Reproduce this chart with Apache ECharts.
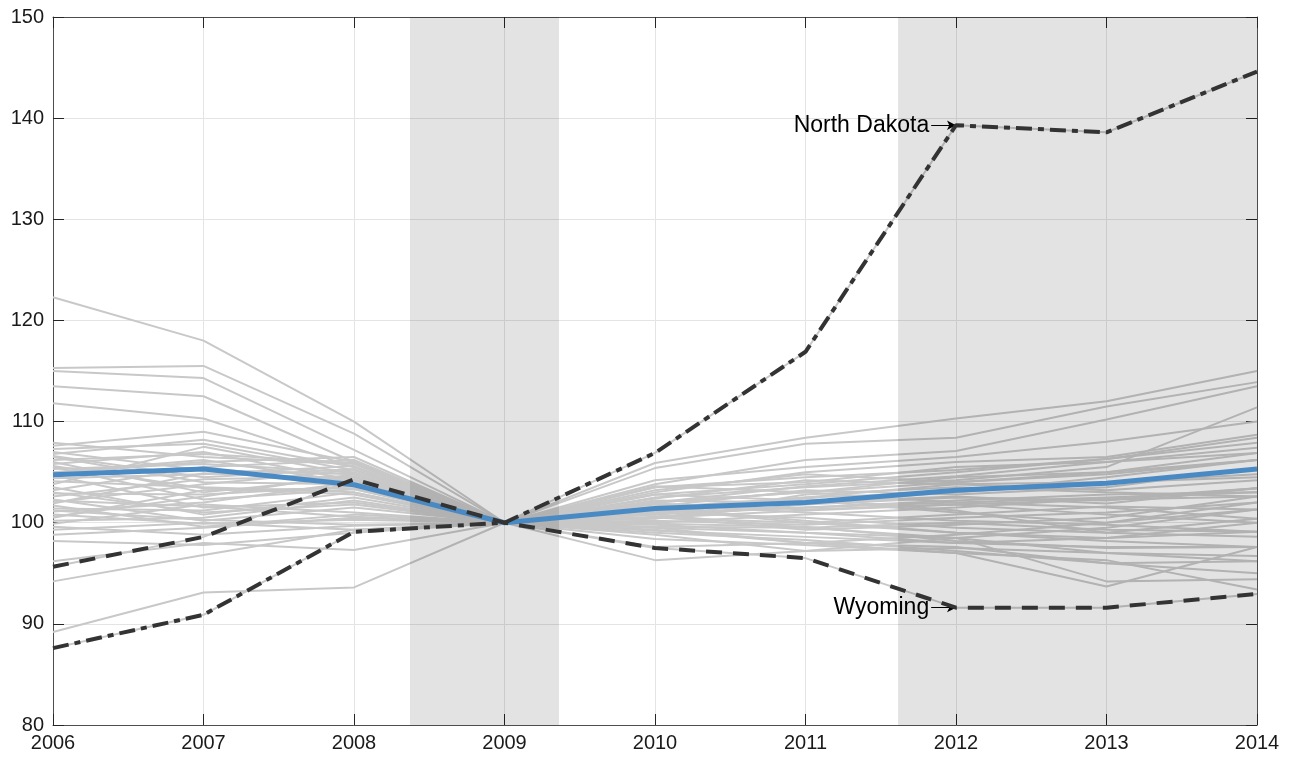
<!DOCTYPE html>
<html>
<head>
<meta charset="utf-8">
<title>State index 2006-2014</title>
<script src="https://cdn.jsdelivr.net/npm/echarts@6/dist/echarts.min.js"></script>
<style>
	html, body { margin: 0; padding: 0; background: #fff; }
	#stateCharts { width: 1294px; height: 759px; }
</style>
</head>
<body>
<div id="stateCharts"></div>
<script>
/********************************************************/
/* data */
/********************************************************/
const years = [2006, 2007, 2008, 2009, 2010, 2011, 2012, 2013, 2014];
const yTicks = { min: 80, max: 150, step: 10 };

// mean of all states (blue)
const meanIndex = [104.75, 105.3, 103.75, 100, 101.4, 102.0, 103.2, 103.9, 105.3];
// highlighted states
const northDakota = [87.6, 90.9, 99.1, 100, 106.9, 116.9, 139.3, 138.6, 144.6];
const wyoming = [95.65, 98.6, 104.3, 100, 97.5, 96.5, 91.6, 91.6, 92.95];

// shaded periods [start, end]
const shadedSpans = [[2008.372, 2009.362], [2011.615, 2014]];

// every other state (grey)
const otherStates = [
	[122.3, 118.0, 110.0, 100, 103.5, 104.5, 105.2, 106.3, 107.9],
	[115.3, 115.5, 108.8, 100, 102.0, 103.0, 104.0, 105.0, 106.2],
	[115.0, 114.3, 107.2, 100, 101.5, 102.5, 103.0, 104.0, 104.5],
	[113.5, 112.5, 106.0, 100, 100.5, 100.0, 99.0, 98.5, 99.1],
	[111.8, 110.3, 105.5, 100, 99.5, 99.0, 98.0, 97.6, 97.6],
	[89.2, 93.1, 93.6, 100, 101.0, 101.5, 102.0, 102.5, 103.0],
	[94.2, 96.8, 99.3, 100, 100.5, 101.2, 101.8, 102.3, 102.6],
	[96.2, 98.0, 97.3, 100, 96.3, 97.2, 97.5, 97.0, 96.2],
	[98.2, 97.8, 99.0, 100, 99.3, 98.0, 97.0, 93.7, 97.6],
	[98.8, 99.5, 100.5, 100, 100.8, 99.5, 98.5, 94.2, 94.4],
	[107.9, 106.5, 105.8, 100, 103.5, 104.0, 105.5, 106.0, 107.4],
	[107.6, 109.0, 106.0, 100, 105.9, 108.4, 110.3, 112.0, 115.0],
	[107.3, 107.8, 105.2, 100, 102.0, 103.0, 104.5, 105.0, 106.9],
	[107.0, 105.2, 104.8, 100, 101.0, 100.5, 99.5, 99.0, 100.4],
	[106.8, 108.2, 105.5, 100, 105.4, 107.8, 108.4, 111.5, 113.9],
	[106.5, 104.0, 103.8, 100, 100.5, 101.8, 102.5, 102.2, 103.4],
	[106.2, 106.8, 105.9, 100, 103.0, 105.0, 106.0, 106.5, 108.7],
	[106.0, 103.0, 104.5, 100, 99.8, 99.0, 98.5, 97.0, 96.7],
	[105.8, 107.0, 104.2, 100, 102.8, 103.8, 105.0, 106.3, 108.4],
	[105.5, 102.3, 103.3, 100, 101.2, 102.5, 103.8, 104.0, 104.8],
	[105.3, 105.8, 105.0, 100, 101.8, 101.0, 100.2, 99.8, 99.1],
	[105.0, 106.2, 104.0, 100, 103.8, 106.2, 107.1, 110.2, 113.5],
	[104.7, 101.5, 102.0, 100, 100.2, 99.8, 100.5, 101.0, 102.0],
	[104.4, 104.8, 105.6, 100, 102.5, 103.5, 104.2, 105.5, 111.4],
	[104.1, 103.5, 103.0, 100, 99.5, 98.0, 97.6, 96.0, 95.0],
	[103.8, 107.5, 104.8, 100, 102.2, 102.0, 103.0, 104.5, 106.2],
	[103.5, 100.8, 102.5, 100, 100.8, 101.5, 102.2, 102.8, 103.0],
	[103.2, 105.5, 106.2, 100, 104.2, 105.5, 106.5, 108.0, 110.0],
	[102.9, 102.8, 103.6, 100, 101.5, 100.2, 99.0, 98.2, 97.6],
	[102.6, 104.3, 104.6, 100, 103.2, 104.8, 104.0, 104.8, 106.2],
	[102.3, 100.2, 101.5, 100, 99.2, 98.6, 98.0, 98.5, 100.0],
	[102.0, 103.8, 105.2, 100, 101.6, 103.2, 102.8, 103.5, 105.4],
	[101.7, 99.6, 100.8, 100, 100.0, 100.8, 101.5, 102.4, 103.4],
	[101.4, 101.2, 103.0, 100, 102.8, 102.2, 101.0, 100.0, 101.3],
	[101.1, 102.0, 104.0, 100, 100.6, 99.3, 99.8, 100.5, 102.6],
	[100.8, 99.9, 100.3, 100, 98.8, 97.2, 98.5, 99.5, 101.3],
	[100.5, 103.2, 103.4, 100, 102.0, 103.6, 104.6, 106.0, 106.9],
	[100.2, 100.5, 102.2, 100, 99.0, 98.3, 97.2, 96.0, 96.2],
	[99.9, 101.8, 101.0, 100, 100.4, 102.8, 103.5, 103.0, 102.6],
	[99.6, 98.8, 99.7, 100, 98.4, 97.8, 97.0, 96.3, 93.4],
	[99.3, 100.0, 99.3, 100, 97.6, 98.0, 98.8, 100.0, 102.0],
	[101.9, 104.9, 104.3, 100, 101.4, 100.0, 100.8, 101.6, 101.3],
	[103.0, 101.0, 101.8, 100, 99.6, 99.5, 100.0, 99.3, 99.1],
	[104.9, 106.0, 106.5, 100, 103.6, 103.0, 102.0, 101.5, 100.4],
	[106.6, 104.5, 105.3, 100, 102.4, 104.2, 103.8, 103.2, 104.2],
	[102.2, 101.6, 100.6, 100, 101.9, 101.3, 101.8, 100.8, 100.0],
	[100.6, 102.6, 104.8, 100, 100.9, 102.4, 101.2, 99.0, 98.6],
	[105.6, 103.4, 102.8, 100, 99.9, 99.6, 98.2, 97.5, 97.6],
	[101.2, 100.3, 99.8, 100, 101.1, 102.0, 102.6, 101.9, 103.4]
];

/********************************************************/
/* chart */
/********************************************************/
const FONT = 'Liberation Sans, Arial, Helvetica, sans-serif';
const GREY = '#c8c8c8';
const DARK = '#333333';

// pair years with values for a value x axis
function toPoints(values) {
	return values.map((v, i) => [years[i], v]);
}

function greyLine(values) {
	return {
		type: 'line',
		data: toPoints(values),
		showSymbol: false,
		silent: true,
		z: 2,
		lineStyle: { color: GREY, width: 2 }
	};
}

// arrow + name pointing at a point of a highlighted line
function annotation(name, year, value) {
	return {
		silent: true,
		symbol: ['none', 'arrow'],
		symbolSize: [7, 9],
		lineStyle: { color: '#000', width: 1, type: 'solid' },
		label: {
			show: true,
			position: 'start',
			distance: 2,
			formatter: name,
			color: '#000',
			fontSize: 23,
			fontFamily: FONT
		},
		data: [[{ coord: [year - 0.165, value] }, { coord: [year, value] }]]
	};
}

function xAxisOf(position, showLabel) {
	return {
		type: 'value',
		position: position,
		min: years[0],
		max: years[years.length - 1],
		interval: 1,
		axisLine: { show: true, onZero: false, lineStyle: { color: '#4d4d4d', width: 1 } },
		axisTick: { show: true, inside: true, length: 11, lineStyle: { color: '#262626' } },
		axisLabel: {
			show: showLabel,
			margin: 8,
			color: '#1a1a1a',
			fontSize: 20,
			fontFamily: FONT,
			formatter: v => String(v)
		},
		splitLine: { show: showLabel, lineStyle: { color: '#e4e4e4', width: 1 } }
	};
}

function yAxisOf(position, showLabel) {
	return {
		type: 'value',
		position: position,
		min: yTicks.min,
		max: yTicks.max,
		interval: yTicks.step,
		axisLine: { show: true, onZero: false, lineStyle: { color: '#4d4d4d', width: 1 } },
		axisTick: { show: true, inside: true, length: 11, lineStyle: { color: '#262626' } },
		axisLabel: {
			show: showLabel,
			margin: 9,
			color: '#1a1a1a',
			fontSize: 20,
			fontFamily: FONT
		},
		splitLine: { show: showLabel, lineStyle: { color: '#e4e4e4', width: 1 } }
	};
}

function buildOption() {
	const series = otherStates.map(greyLine);
	// highlighted states also sit in the grey bundle
	series.push(greyLine(northDakota));
	series.push(greyLine(wyoming));

	// shaded periods, laid over the grey lines
	series.push({
		type: 'custom',
		silent: true,
		z: 3,
		data: shadedSpans,
		renderItem: function (params, api) {
			const p0 = api.coord([api.value(0), yTicks.max]);
			const p1 = api.coord([api.value(1), yTicks.min]);
			return {
				type: 'rect',
				shape: { x: p0[0], y: p0[1], width: p1[0] - p0[0], height: p1[1] - p0[1] },
				style: { fill: 'rgba(0,0,0,0.11)' }
			};
		}
	});

	series.push({
		name: 'Mean',
		type: 'line',
		data: toPoints(meanIndex),
		showSymbol: false,
		silent: true,
		z: 4,
		lineStyle: { color: '#4a8ac4', width: 5 }
	});
	series.push({
		name: 'North Dakota',
		type: 'line',
		data: toPoints(northDakota),
		showSymbol: false,
		silent: true,
		z: 5,
		lineStyle: { color: DARK, width: 4, type: [16, 6, 6, 6] },
		markLine: annotation('North Dakota', 2012, northDakota[6])
	});
	series.push({
		name: 'Wyoming',
		type: 'line',
		data: toPoints(wyoming),
		showSymbol: false,
		silent: true,
		z: 5,
		lineStyle: { color: DARK, width: 4, type: [16, 11] },
		markLine: annotation('Wyoming', 2012, wyoming[6])
	});

	return {
		animation: false,
		backgroundColor: '#ffffff',
		grid: { left: 53, right: 37, top: 17, bottom: 34 },
		xAxis: [xAxisOf('bottom', true), xAxisOf('top', false)],
		yAxis: [yAxisOf('left', true), yAxisOf('right', false)],
		series: series
	};
}

let stateCharts = echarts.init(document.getElementById('stateCharts'));
stateCharts.setOption(buildOption());
</script>
</body>
</html>
